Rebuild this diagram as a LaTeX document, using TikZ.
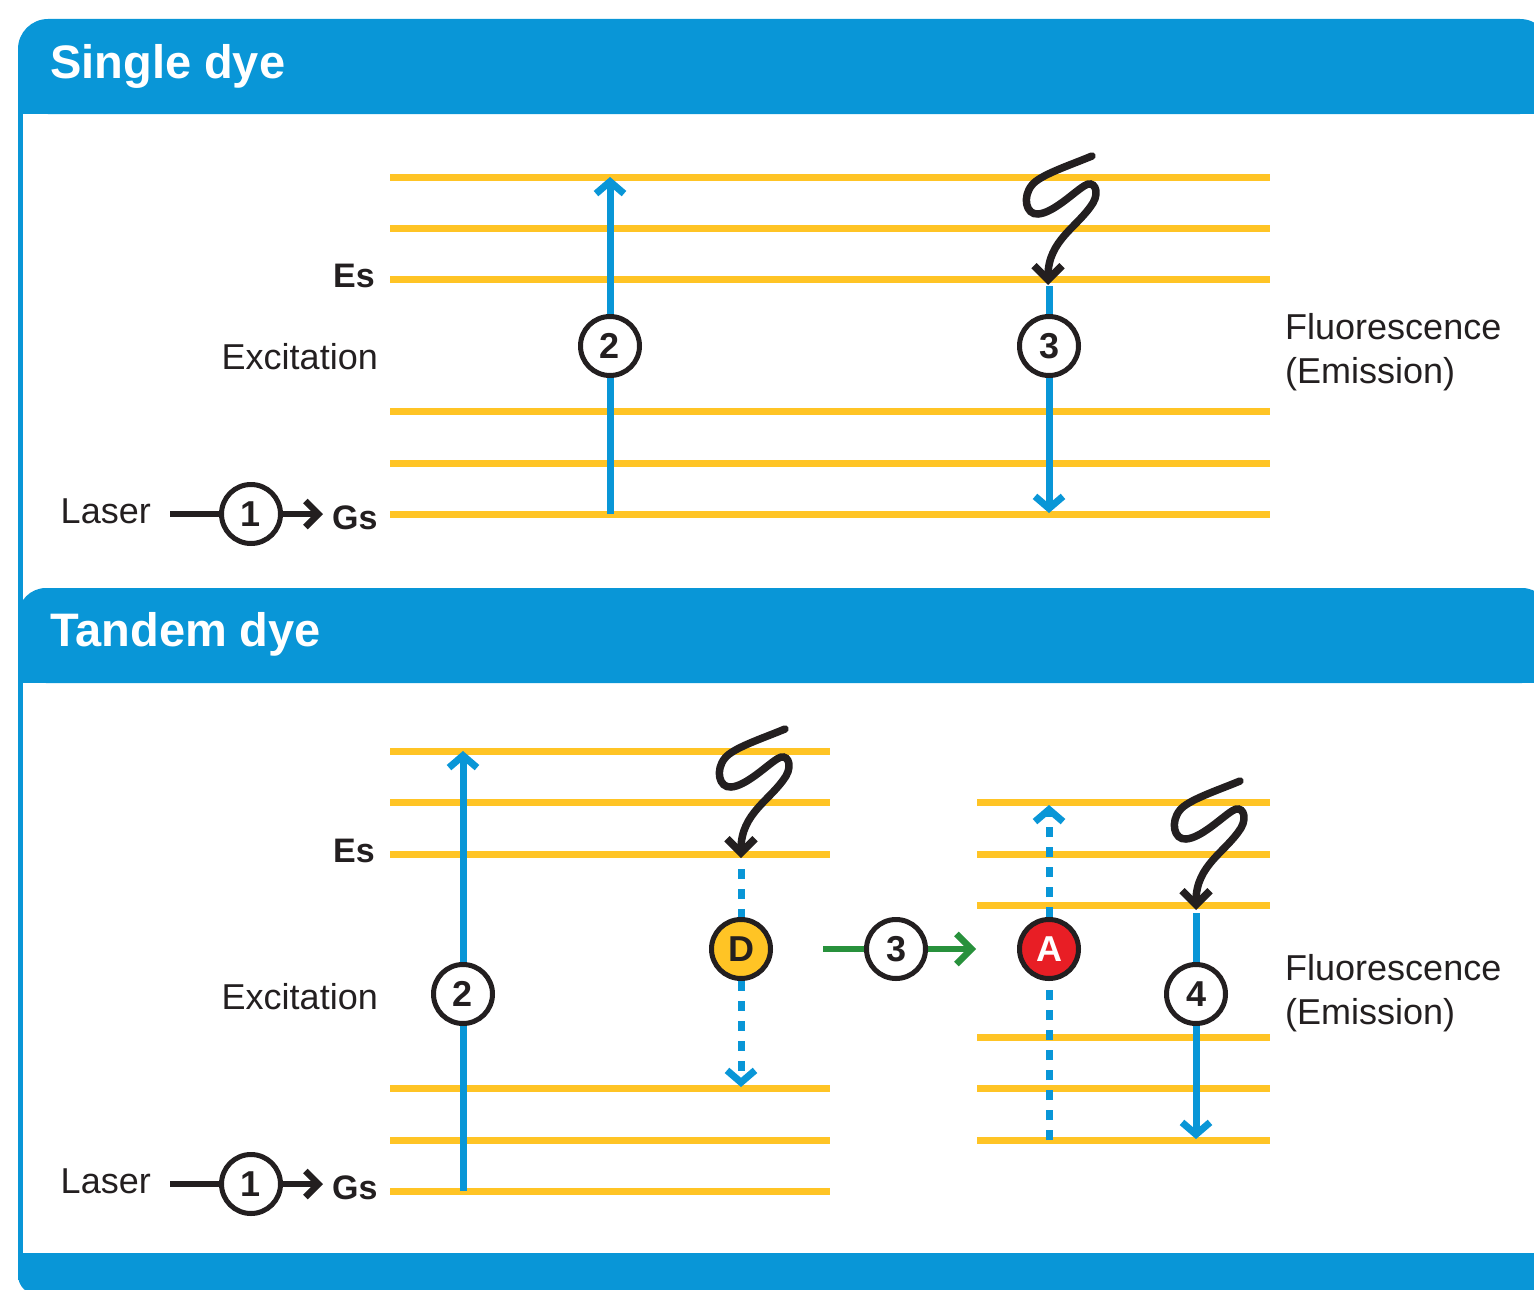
\documentclass[tikz,border=0pt]{standalone}
\usepackage{fontspec}
\setmainfont{Liberation Sans}
\usetikzlibrary{arrows.meta}

\definecolor{panelblue}{RGB}{9,150,215}
\definecolor{levelyellow}{RGB}{255,196,37}
\definecolor{inkblack}{RGB}{35,31,32}
\definecolor{fretgreen}{RGB}{40,145,60}
\definecolor{acceptorred}{RGB}{232,30,37}

\tikzset{
  energy/.style={levelyellow, line width=7pt},
  bluepath/.style={panelblue, line width=7pt},
  bluedots/.style={panelblue, line width=7pt, dash pattern=on 10pt off 10pt},
  bluehead/.style={-{Straight Barb[length=12pt,width=28pt]}},
  blackline/.style={inkblack, line width=6.5pt},
  blackhead/.style={-{Straight Barb[length=13pt,width=26pt]}},
  greenline/.style={fretgreen, line width=6.5pt},
  greenhead/.style={-{Straight Barb[length=15pt,width=30pt]}},
  stepcirc/.style={circle, draw=inkblack, line width=5pt, fill=white,
    minimum size=59pt, inner sep=0pt,
    font=\fontsize{36}{36}\selectfont\bfseries, text=inkblack},
  lbl/.style={font=\fontsize{36}{40}\selectfont, text=inkblack, inner sep=0pt},
  lblb/.style={font=\fontsize{34}{40}\selectfont\bfseries, text=inkblack, inner sep=0pt},
  headtext/.style={font=\fontsize{47}{50}\selectfont\bfseries, text=white,
    inner sep=0pt, anchor=base west},
  wave/.style={inkblack, line width=7.5pt, line cap=round,
    -{Straight Barb[length=14pt,width=28pt]}},
  wavein/.pic={
    \draw[wave] (44,-129) .. controls (20,-119) and (-8,-110) .. (-16,-100)
      .. controls (-26,-88) and (-22,-70) .. (-10,-71)
      .. controls (5,-72) and (25,-92) .. (36,-99)
      .. controls (46,-106) and (52,-94) .. (45,-82)
      .. controls (30,-58) and (0,-45) .. (0,0);
  },
}

\begin{document}
\begin{tikzpicture}[x=1pt, y=-1pt]
\useasboundingbox (0,0) rectangle (1534,1290);

% panel frame: title bars, left rule, foot bar
\begin{scope}
  \clip (0,0) rectangle (1534,1290);
  \fill[panelblue, rounded corners=30pt] (18,19) rectangle (1550,114);
  \fill[panelblue] (18,70) rectangle (1550,114);
  \fill[panelblue, rounded corners=28pt] (18,588) rectangle (1550,683);
  \fill[panelblue] (18,640) rectangle (1550,683);
  \fill[panelblue, rounded corners=20pt] (18,1253) rectangle (1550,1295);
  \fill[panelblue] (18,1253) rectangle (1550,1275);
  \fill[panelblue] (18,60) rectangle (23,1280);
\end{scope}

\node[headtext] (h1) at (50,78) {Single dye};
\node[headtext] (h2) at (50,646) {Tandem dye};

% ---------- single dye ----------
\foreach \y in {177,228,279,411,463,514}
  \draw[energy] (390,\y) -- (1270,\y);

\node[lblb, anchor=base east] (es1) at (375,287) {Es};
\node[lbl, anchor=base east] (ex1) at (378,369) {Excitation};
\node[lbl, anchor=base east] (la1) at (151,523) {Laser};
\node[lblb, anchor=base west] (gs1) at (332,529) {Gs};
\node[lbl, anchor=base west] (fl1) at (1285,339) {Fluorescence};
\node[lbl, anchor=base west] (em1) at (1285,383) {(Emission)};

\coordinate (l1in) at (170,514);
\node[stepcirc] (l1) at (251,514) {1};
\draw[blackline] (l1in) -- (l1);
\draw[blackline, blackhead, shorten >=9pt] (l1) -- (l1 -| gs1.west);

\coordinate (s2lo) at (610,514);
\coordinate (s2hi) at (610,177);
\node[stepcirc] (s2) at (610,346) {2};
\draw[bluepath] (s2lo) -- (s2);
\draw[bluepath, bluehead] (s2) -- (s2hi);

\pic at (1048,285) {wavein};
\coordinate (s3hi) at (1049,286);
\coordinate (s3lo) at (1049,513);
\node[stepcirc] (s3) at (1049,346) {3};
\draw[bluepath] (s3hi) -- (s3);
\draw[bluepath, bluehead] (s3) -- (s3lo);

% ---------- tandem dye ----------
\foreach \y in {751,802,854,1088,1140,1191}
  \draw[energy] (390,\y) -- (830,\y);
\foreach \y in {802,854,905,1037,1088,1140}
  \draw[energy] (977,\y) -- (1270,\y);

\node[lblb, anchor=base east] (es2) at (375,862) {Es};
\node[lbl, anchor=base east] (ex2) at (378,1009) {Excitation};
\node[lbl, anchor=base east] (la2) at (151,1193) {Laser};
\node[lblb, anchor=base west] (gs2) at (332,1199) {Gs};
\node[lbl, anchor=base west] (fl2) at (1285,980) {Fluorescence};
\node[lbl, anchor=base west] (em2) at (1285,1024) {(Emission)};

\coordinate (l2in) at (170,1184);
\node[stepcirc] (l2) at (251,1184) {1};
\draw[blackline] (l2in) -- (l2);
\draw[blackline, blackhead, shorten >=9pt] (l2) -- (l2 -| gs2.west);

\coordinate (t2lo) at (463,1191);
\coordinate (t2hi) at (463,751);
\node[stepcirc] (t2) at (463,994) {2};
\draw[bluepath] (t2lo) -- (t2);
\draw[bluepath, bluehead] (t2) -- (t2hi);

% donor
\pic at (741,858) {wavein};
\coordinate (dhi) at (741,869);
\coordinate (dlo) at (741,1087);
\node[stepcirc, fill=levelyellow] (don) at (741,949) {D};
\draw[bluedots] (dhi) -- (don);
\draw[bluedots, bluehead] (don) -- (dlo);

% energy transfer
\coordinate (g0) at (823,949);
\coordinate (g1) at (976,949);
\node[stepcirc] (t3) at (896,949) {3};
\draw[greenline] (g0) -- (t3);
\draw[greenline, greenhead] (t3) -- (g1);

% acceptor
\coordinate (alo) at (1049,1140);
\coordinate (ahi) at (1049,805);
\node[stepcirc, fill=acceptorred, text=white] (acc) at (1049,949) {A};
\draw[bluedots] (alo) -- (acc);
\draw[bluedots, bluehead] (acc) -- (ahi);

\pic at (1196,910) {wavein};
\coordinate (t4hi) at (1196,913);
\coordinate (t4lo) at (1196,1139);
\node[stepcirc] (t4) at (1196,994) {4};
\draw[bluepath] (t4hi) -- (t4);
\draw[bluepath, bluehead] (t4) -- (t4lo);
\end{tikzpicture}
\end{document}
